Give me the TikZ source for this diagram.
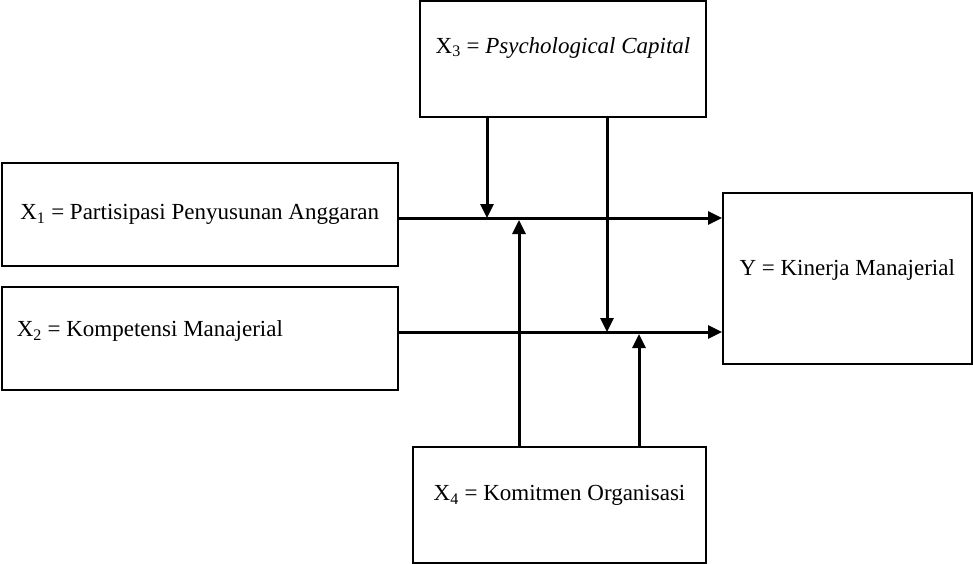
\documentclass[tikz,border=0pt]{standalone}
\usepackage{fontspec}
\setmainfont{Liberation Serif}
\usetikzlibrary{arrows.meta}
\begin{document}
\begin{tikzpicture}[x=1pt,y=-1pt,
    box/.style={draw,line width=2pt,rectangle,inner sep=0pt,font=\fontsize{23}{27}\selectfont},
    arr/.style={line width=3pt,-{Triangle[length=14pt,width=13pt]}}]
        \useasboundingbox (0,0) rectangle (973,564);

        \node[box,minimum width=286pt,minimum height=115.5pt,text depth=28pt] (X3) at (563,59.25) {X\textsubscript{3} = \textit{Psychological Capital}};
        \node[box,minimum width=396.5pt,minimum height=103pt] (X1) at (199.75,214.5) {X\textsubscript{1} = Partisipasi Penyusunan Anggaran};
        \node[box,minimum width=396.5pt,minimum height=103pt,text width=366pt,align=flush left,text depth=20pt] (X2) at (199.75,338.5) {X\textsubscript{2} = Kompetensi Manajerial};
        \node[box,minimum width=293pt,minimum height=115.5pt,text depth=24pt] (X4) at (559.5,504.75) {X\textsubscript{4} = Komitmen Organisasi};
        \node[box,minimum width=248.5pt,minimum height=171pt,text depth=22pt] (Y) at (847.25,278.5) {Y = Kinerja Manajerial};

        \coordinate (p1) at (487,218);
        \coordinate (q1) at (519,220);
        \coordinate (p2) at (607,332);
        \coordinate (q2) at (639,334);

        \draw[arr] (X1.east |- p1) -- (Y.west |- p1);
        \draw[arr] (X2.east |- p2) -- (Y.west |- p2);

        \draw[arr] (X3.south -| p1) -- (p1);
        \draw[arr] (X3.south -| p2) -- (p2);
        \draw[arr] (X4.north -| q1) -- (q1);
        \draw[arr] (X4.north -| q2) -- (q2);
    \end{tikzpicture}
\end{document}
